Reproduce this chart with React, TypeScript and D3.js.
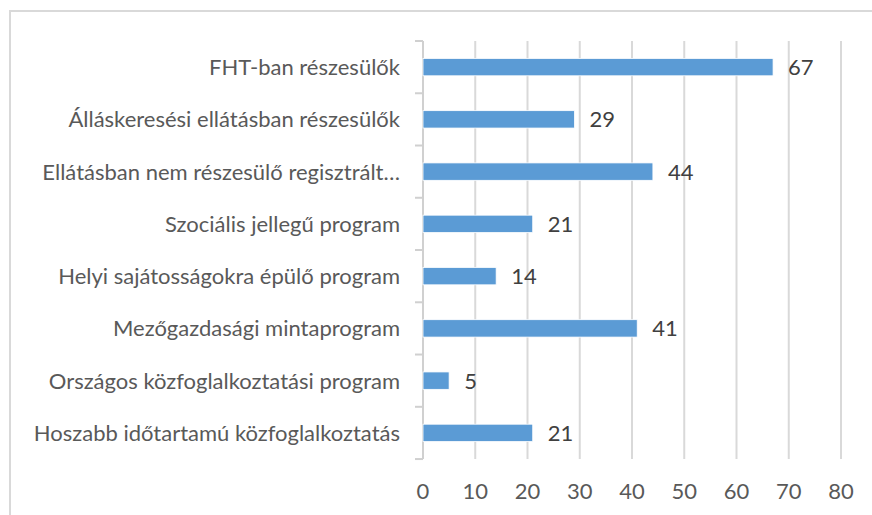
import React from "react";
import * as d3 from "d3";

const categories = [
  "FHT-ban részesülők",
  "Álláskeresési ellátásban részesülők",
  "Ellátásban nem részesülő regisztrált…",
  "Szociális jellegű program",
  "Helyi sajátosságokra épülő program",
  "Mezőgazdasági mintaprogram",
  "Országos közfoglalkoztatási program",
  "Hoszabb időtartamú közfoglalkoztatás",
];
const values = [67, 29, 44, 21, 14, 41, 5, 21];
const xTicks = [0, 10, 20, 30, 40, 50, 60, 70, 80];

const W = 872;
const H = 515;
const FONT = "Lato, 'Open Sans', sans-serif";

export default function App() {
  const x = d3.scaleLinear().domain([0, 80]).range([423, 841]);
  const y = d3
    .scaleBand<string>()
    .domain(categories)
    .range([41, 459])
    .paddingInner(0.667)
    .paddingOuter(0.333);
  const step = y.step();
  const bandTop = 41;
  const boundaries = d3.range(categories.length + 1).map((i) => bandTop + i * step);
  const fs = 22;

  return (
    <svg
      width={W}
      height={H}
      style={{ position: "absolute", left: 0, top: 0, background: "#fff" }}
      fontFamily={FONT}
    >
      <rect x={0} y={0} width={W} height={H} fill="#fff" />
      <rect x={10} y={11} width={W + 20} height={H + 20} fill="none" stroke="#d9d9d9" strokeWidth={2} />
      {/* gridlines */}
      {xTicks.map((t) =>
        t === 0 ? null : (
          <line key={t} x1={x(t)} x2={x(t)} y1={41} y2={459} stroke="#d9d9d9" strokeWidth={2} />
        )
      )}
      {/* axis line */}
      <line x1={x(0)} x2={x(0)} y1={41} y2={459} stroke="#d0d0d0" strokeWidth={2} />
      {boundaries.map((b, i) => (
        <line key={i} x1={x(0) - 8} x2={x(0)} y1={b} y2={b} stroke="#d0d0d0" strokeWidth={2} />
      ))}
      {/* bars */}
      {categories.map((c, i) => (
        <rect
          key={c}
          x={x(0)}
          y={y(c)!}
          width={x(values[i]) - x(0)}
          height={y.bandwidth()}
          fill="#5b9bd5"
          stroke="#ffffff"
          strokeWidth={0.8}
        />
      ))}
      {/* value labels */}
      {categories.map((c, i) => (
        <text
          key={c}
          x={x(values[i]) + 15}
          y={y(c)! + y.bandwidth() / 2 + fs * 0.36}
          fontSize={fs}
          fill="#404040"
        >
          {values[i]}
        </text>
      ))}
      {/* category labels */}
      {categories.map((c) => (
        <text
          key={c}
          x={400}
          y={y(c)! + y.bandwidth() / 2 + fs * 0.36}
          fontSize={fs}
          textAnchor="end"
          fill="#595959"
        >
          {c}
        </text>
      ))}
      {/* x tick labels */}
      {xTicks.map((t) => (
        <text key={t} x={x(t)} y={499} fontSize={fs} textAnchor="middle" fill="#595959">
          {t}
        </text>
      ))}
    </svg>
  );
}
